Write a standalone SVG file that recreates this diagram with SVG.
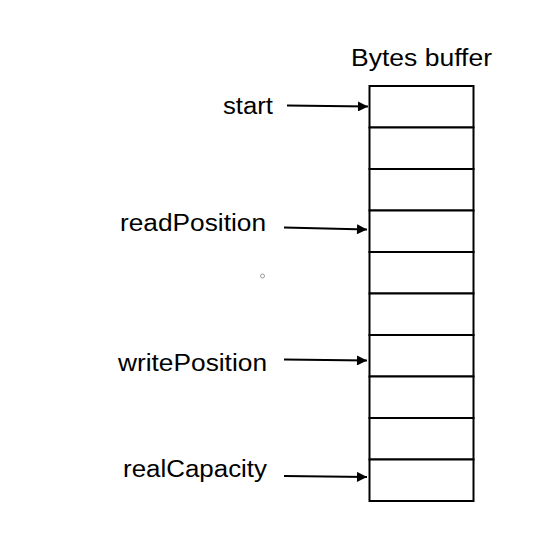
<svg xmlns="http://www.w3.org/2000/svg" width="547" height="541" viewBox="0 0 547 541">
<style>
text{font-family:"Liberation Sans",Arial,sans-serif;font-size:23px;fill:#000}
.cell{fill:#fff;stroke:#000;stroke-width:2}
.arr{stroke:#000;stroke-width:2;fill:none;marker-end:url(#ah)}
</style>
<defs>
<marker id="ah" viewBox="0 0 10 10" refX="10" refY="5" markerWidth="7" markerHeight="5" markerUnits="strokeWidth" orient="auto">
<path d="M0,0 L10,5 L0,10 z" fill="#000"/>
</marker>
</defs>
<rect width="547" height="541" fill="#fff"/>
<g id="buffer">
<text x="351" y="66" textLength="141" lengthAdjust="spacingAndGlyphs">Bytes buffer</text>
<rect class="cell" x="369.5" y="86" width="104" height="41.5"/>
<rect class="cell" x="369.5" y="127.5" width="104" height="41.5"/>
<rect class="cell" x="369.5" y="169" width="104" height="41.5"/>
<rect class="cell" x="369.5" y="210.5" width="104" height="41.5"/>
<rect class="cell" x="369.5" y="252" width="104" height="41.5"/>
<rect class="cell" x="369.5" y="293.5" width="104" height="41.5"/>
<rect class="cell" x="369.5" y="335" width="104" height="41.5"/>
<rect class="cell" x="369.5" y="376.5" width="104" height="41.5"/>
<rect class="cell" x="369.5" y="418" width="104" height="41.5"/>
<rect class="cell" x="369.5" y="459.5" width="104" height="41.5"/>
</g>
<g id="start"><text x="223" y="114" textLength="50" lengthAdjust="spacingAndGlyphs">start</text></g>
<g id="readPosition"><text x="120" y="231" textLength="146" lengthAdjust="spacingAndGlyphs">readPosition</text></g>
<g id="writePosition"><text x="118" y="371" textLength="149" lengthAdjust="spacingAndGlyphs">writePosition</text></g>
<g id="realCapacity"><text x="123" y="477" textLength="144" lengthAdjust="spacingAndGlyphs">realCapacity</text></g>
<g id="connectors">
<line class="arr" x1="287" y1="105.5" x2="368" y2="106.5"/>
<line class="arr" x1="284" y1="227.5" x2="367" y2="229.5"/>
<line class="arr" x1="284" y1="359.5" x2="367" y2="360.5"/>
<line class="arr" x1="284" y1="476" x2="367" y2="477"/>
</g>
<circle cx="262.5" cy="276" r="2" fill="none" stroke="#999" stroke-width="1"/>
</svg>
